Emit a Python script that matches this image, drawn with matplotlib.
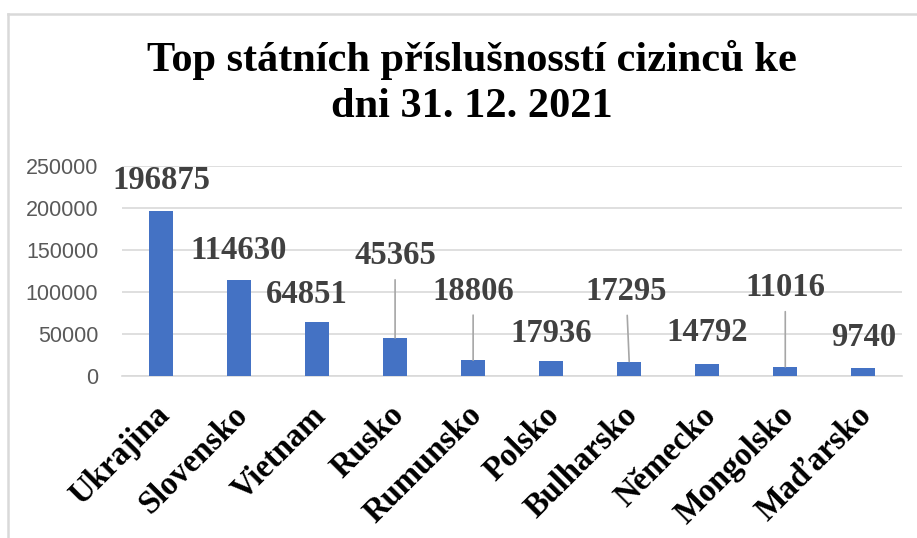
import matplotlib
matplotlib.use("Agg")
import matplotlib.pyplot as plt
from matplotlib.lines import Line2D
from matplotlib.transforms import ScaledTranslation

categories = ["Ukrajina", "Slovensko", "Vietnam", "Rusko", "Rumunsko",
              "Polsko", "Bulharsko", "Německo", "Mongolsko", "Maďarsko"]
values = [196875, 114630, 64851, 45365, 18806, 17936, 17295, 14792, 11016, 9740]
yticks = [0, 50000, 100000, 150000, 200000, 250000]
title = "Top státních příslušnosstí cizinců ke\ndni 31. 12. 2021"

# label offsets (pixels) relative to bar top: (dx, dy, leader line?)
label_offsets = [(0, 30, False), (0, 29, False), (-10, 27, False), (0, 82, True),
                 (0, 69, True), (0, 28, False), (-3, 70, True), (0, 31, False),
                 (0, 79, True), (0, 30, False)]

fig = plt.figure(figsize=(9.17, 5.38), dpi=100)
ax = fig.add_axes([0.133, 0.301, 0.851, 0.390])

x = list(range(len(categories)))
ax.bar(x, values, width=0.31, color="#4472C4", zorder=3)
ax.set_xlim(-0.5, len(categories) - 0.5)
ax.set_ylim(0, 250000)
ax.set_yticks(yticks)
ax.set_yticklabels([str(t) for t in yticks], fontfamily="Liberation Sans",
                   fontsize=15.5, color="#595959")
ax.yaxis.grid(True, color="#D9D9D9", linewidth=1.2, zorder=0)
ax.tick_params(axis="both", length=0)
ax.tick_params(axis="y", pad=17)
for s in ["top", "right", "left"]:
    ax.spines[s].set_visible(False)
ax.spines["bottom"].set_color("#D9D9D9")
ax.spines["bottom"].set_linewidth(1.2)

ax.set_xticks(x)
ax.set_xticklabels(categories, rotation=45, ha="right", va="top",
                   rotation_mode="anchor", fontfamily="Liberation Serif",
                   fontweight="bold", fontsize=23.5, color="black")
ax.tick_params(axis="x", pad=17)
shift = ScaledTranslation(-7 / 100, 0, fig.dpi_scale_trans)
for lbl in ax.get_xticklabels():
    lbl.set_transform(lbl.get_transform() + shift)

for xi, v, (dx, dy, lead) in zip(x, values, label_offsets):
    arrow = None
    if lead:
        arrow = dict(arrowstyle="-", color="#A6A6A6", lw=1.2,
                     shrinkA=4, shrinkB=0)
    ax.annotate(str(v), xy=(xi, v), xytext=(dx, dy), textcoords="offset pixels",
                ha="center", va="center", fontfamily="Liberation Serif",
                fontweight="bold", fontsize=23.5, color="#404040",
                arrowprops=arrow, zorder=4)

fig.text(0.515, 1 - 83 / 538, title, ha="center", va="center",
         fontfamily="Liberation Serif", fontweight="bold", fontsize=30.5,
         linespacing=1.28, color="black")

# chart border (top and left)
fig.add_artist(Line2D([8 / 917, 1.0], [1 - 14 / 538, 1 - 14 / 538],
                      transform=fig.transFigure, color="#D9D9D9", lw=1.8))
fig.add_artist(Line2D([8 / 917, 8 / 917], [0, 1 - 14 / 538],
                      transform=fig.transFigure, color="#D9D9D9", lw=1.8))

fig.savefig("out.png", dpi=100)
